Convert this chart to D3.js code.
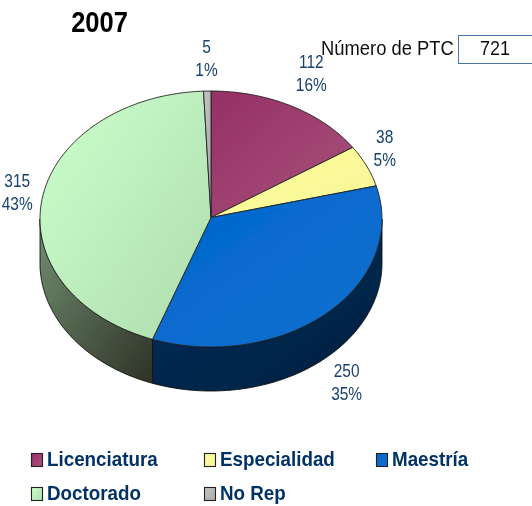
<!DOCTYPE html>
<html><head><meta charset="utf-8">
<script src="https://cdn.jsdelivr.net/npm/d3@7"></script>
<style>html,body{margin:0;background:#fff;overflow:hidden}svg{display:block}text{font-family:"Liberation Sans",Arial,sans-serif}</style>
</head><body><svg id="c" width="532" height="506"></svg>
<script>
const title = "2007";
const categories = ["Licenciatura","Especialidad","Maestría","Doctorado","No Rep"];
const values = [112,38,250,315,5];
const percents = ["16%","5%","35%","43%","1%"];
const totalLabel = "Número de PTC";
const totalValue = "721";

const topStart = ["#953065","#ffff99","#0066cc","#ccffcc","#c4c4c4"];
const topEnd = ["#a8527c","#f5f59a","#1270d0","#aedcae","#a8a8a8"];
const wallStart = ["#4d1a33","#808050","#002f5c","#728f72","#606060"];
const wallEnd = ["#4d1a33","#808050","#00203f","#2e3226","#606060"];
const labelNudge = [[4,-10],[-13,-10],[-3,40],[9,-8],[0,-6]];
const legendCols = [31,204,376], legendRows = [453,487];

const cx=211, cy=219, rx=171, ry=128, depth=44, lineGap=23;
const svg=d3.select("#c");
const defs=svg.append("defs");
defs.append("filter").attr("id","soft").append("feGaussianBlur").attr("stdDeviation",0.45);
const px=d3.scaleLinear().domain([-1,1]).range([cx-rx,cx+rx]);
const py=d3.scaleLinear().domain([-1,1]).range([cy-ry,cy+ry]);
const pie=d3.pie().sort(null).value(v=>v)(values);

categories.forEach((c,i)=>{
  const g=defs.append("linearGradient").attr("id","t"+i).attr("x1",0).attr("y1",0).attr("x2",1).attr("y2",1);
  g.append("stop").attr("offset",0).attr("stop-color",topStart[i]);
  g.append("stop").attr("offset",1).attr("stop-color",topEnd[i]);
  const w=defs.append("linearGradient").attr("id","w"+i).attr("x1",0).attr("y1",0).attr("x2",1).attr("y2",1);
  w.append("stop").attr("offset",0).attr("stop-color",wallStart[i]);
  w.append("stop").attr("offset",1).attr("stop-color",wallEnd[i]);
});

const root=svg.append("g").attr("filter","url(#soft)");
const samples=(a,b)=>{const n=Math.max(2,Math.ceil((b-a)/0.02));return d3.range(n+1).map(k=>a+(b-a)*k/n);};
const line=d3.line();
const pt=(a,dy=0)=>[px(Math.sin(a)),py(-Math.cos(a))+dy];

// side walls (only the front half of the disc shows)
pie.forEach((d,i)=>{
  const a=Math.max(d.startAngle,Math.PI/2), b=Math.min(d.endAngle,Math.PI*1.5);
  if(b<=a) return;
  const s=samples(a,b);
  const path=s.map(t=>pt(t)).concat(s.slice().reverse().map(t=>pt(t,depth)));
  root.append("path").attr("d",line(path)+"Z").attr("fill",`url(#w${i})`)
    .attr("stroke","#111").attr("stroke-width",0.9).attr("stroke-linejoin","round");
});
// top face
pie.forEach((d,i)=>{
  const path=[[cx,cy-1.5]].concat(samples(d.startAngle,d.endAngle).map(t=>pt(t)));
  root.append("path").attr("d",line(path)+"Z").attr("fill",`url(#t${i})`)
    .attr("stroke","#222").attr("stroke-width",0.9).attr("stroke-linejoin","round");
});

function label(x,y,str,size,k,weight,fill,anchor){
  root.append("g").attr("transform",`translate(${x},${y}) scale(${k},1)`)
    .append("text").text(str).attr("font-size",size).attr("font-weight",weight)
    .attr("fill",fill).attr("text-anchor",anchor);
}
// data labels
pie.forEach((d,i)=>{
  const m=(d.startAngle+d.endAngle)/2;
  const x=cx+rx*1.2*Math.sin(m)+labelNudge[i][0];
  const y=cy-ry*1.25*Math.cos(m)+labelNudge[i][1];
  label(x,y,String(values[i]),18,0.86,"normal","#17406f","middle");
  label(x,y+lineGap,percents[i],18,0.86,"normal","#17406f","middle");
});
// title and total box
label(99.5,32,title,30,0.85,"bold","#000","middle");
label(321,55,totalLabel,20,0.92,"normal","#111","start");
root.append("rect").attr("x",458.5).attr("y",35.5).attr("width",90).attr("height",28)
  .attr("fill","#fff").attr("stroke","#4a74a6").attr("stroke-width",1);
label(495,55,totalValue,20,0.9,"normal","#111","middle");
// legend
categories.forEach((c,i)=>{
  const x=legendCols[i%3], y=legendRows[Math.floor(i/3)];
  root.append("rect").attr("x",x+0.5).attr("y",y+0.5).attr("width",11).attr("height",13)
    .attr("fill",`url(#t${i})`).attr("stroke","#222").attr("stroke-width",1.1);
  label(x+16,y+13,c,20,0.94,"bold","#003366","start");
});
</script></body></html>
